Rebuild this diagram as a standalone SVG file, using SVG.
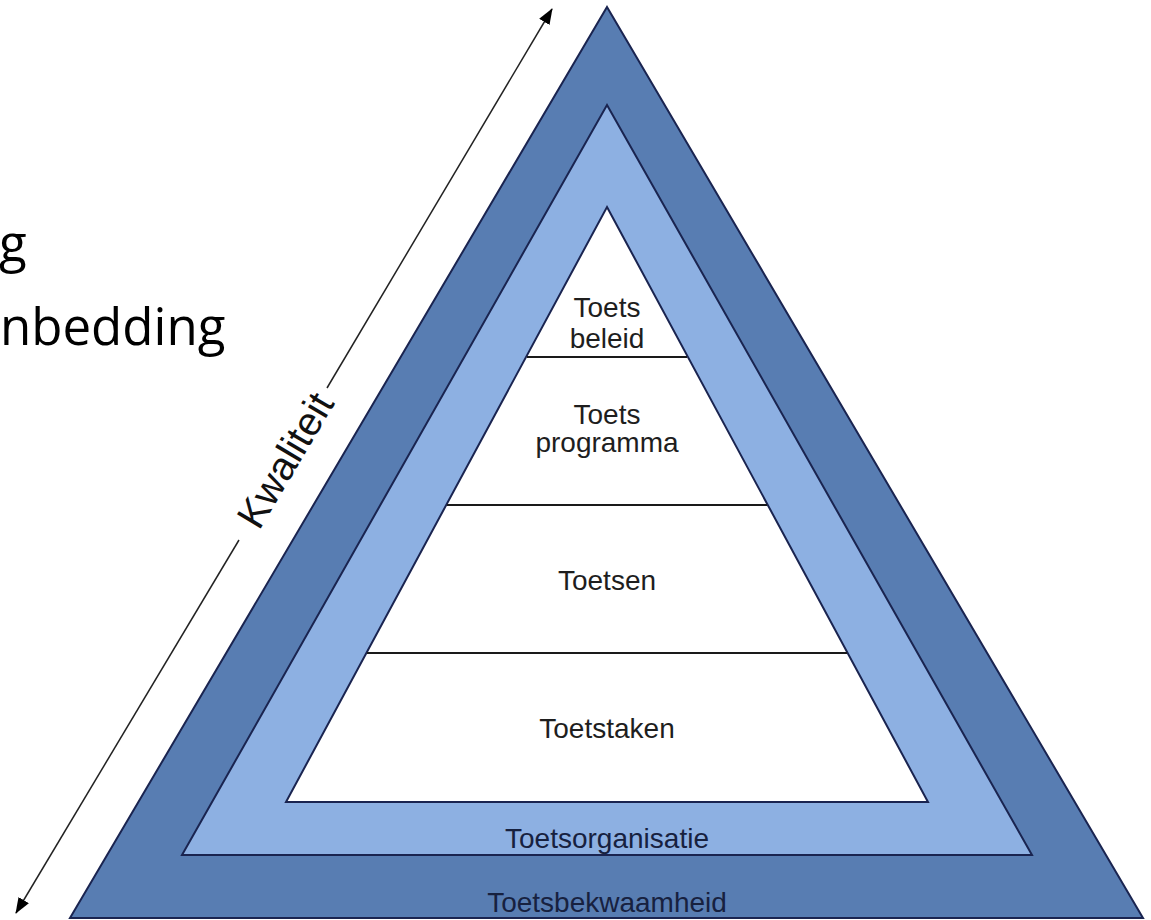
<svg xmlns="http://www.w3.org/2000/svg" width="1151" height="920" viewBox="0 0 1151 920">
  <style>
    .lbl { font-family: "Liberation Sans", Arial, sans-serif; font-size: 28px; fill: #1e1e1e; text-anchor: middle; }
    .lblb { font-family: "Liberation Sans", Arial, sans-serif; font-size: 28px; fill: #17213f; text-anchor: middle; }
    .side { font-family: "Open Sans", "DejaVu Sans", sans-serif; font-size: 51px; fill: #000; }
    .edge { stroke: #1a2450; stroke-width: 2; stroke-linejoin: miter; }
    .div { stroke: #1a1a1a; stroke-width: 2; }
    .arrow { stroke: #222; stroke-width: 1.5; fill: none; }
  </style>
  <defs>
    <marker id="ah" markerWidth="16" markerHeight="12" refX="15" refY="6" orient="auto" markerUnits="userSpaceOnUse">
      <path d="M0,0 L16,6 L0,12 Z" fill="#000"/>
    </marker>
  </defs>
  <rect width="1151" height="920" fill="#fff"/>

  <g id="side-text">
    <text class="side" x="-1" y="262">g</text>
    <text class="side" x="0" y="345">nbedding</text>
  </g>

  <g id="toetsbekwaamheid">
    <polygon class="edge" points="607,7 1143,918 70,918" fill="#587db2"/>
    <text class="lblb" x="607" y="912">Toetsbekwaamheid</text>
  </g>

  <g id="toetsorganisatie">
    <polygon class="edge" points="607,105 1032,855 182,855" fill="#8db0e2"/>
    <text class="lblb" x="607" y="848">Toetsorganisatie</text>
  </g>

  <g id="inner">
    <polygon class="edge" points="607,207 928,802 286,802" fill="#ffffff"/>
  </g>

  <g id="toets-beleid">
    <text class="lbl" x="607" y="317">Toets</text>
    <text class="lbl" x="607" y="348">beleid</text>
  </g>
  <g id="toets-programma">
    <text class="lbl" x="607" y="424">Toets</text>
    <text class="lbl" x="607" y="452">programma</text>
  </g>
  <g id="toetsen">
    <text class="lbl" x="607" y="590">Toetsen</text>
  </g>
  <g id="toetstaken">
    <text class="lbl" x="607" y="738">Toetstaken</text>
  </g>

  <g id="connectors">
    <line class="div" x1="527" y1="357" x2="687" y2="357"/>
    <line class="div" x1="447" y1="505" x2="767" y2="505"/>
    <line class="div" x1="367" y1="653" x2="847" y2="653"/>
    <line class="arrow" x1="327" y1="388" x2="552" y2="9" marker-end="url(#ah)"/>
    <line class="arrow" x1="239" y1="540" x2="16" y2="913" marker-end="url(#ah)"/>
    <text x="285" y="460" transform="rotate(-59.3 285 460)" dy="0.35em" font-family="Liberation Sans, Arial, sans-serif" font-size="40" fill="#111" text-anchor="middle">Kwaliteit</text>
  </g>
</svg>
